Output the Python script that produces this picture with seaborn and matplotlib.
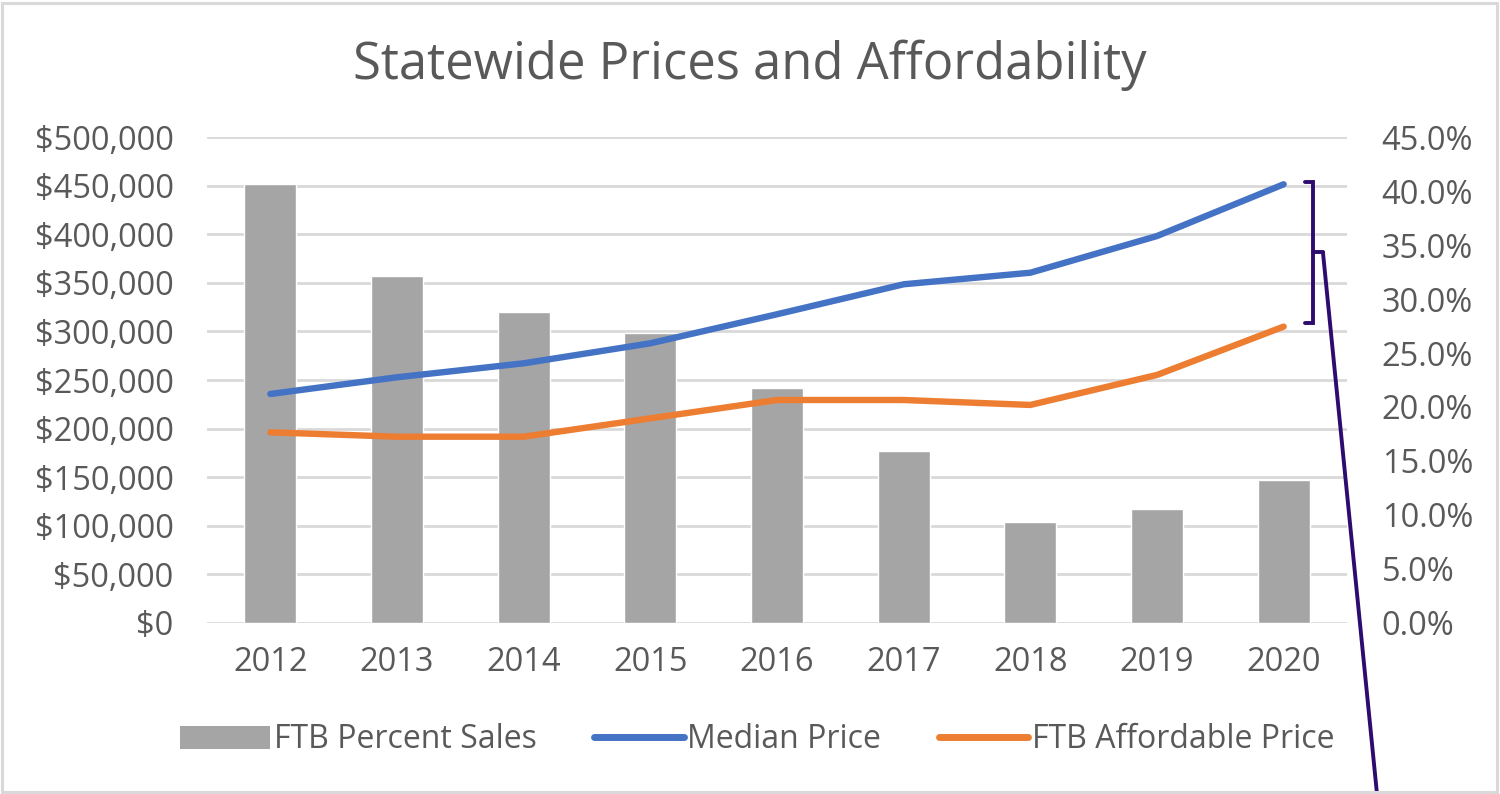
import numpy as np
import pandas as pd
import matplotlib
matplotlib.use("Agg")
import matplotlib.pyplot as plt
import seaborn as sns
from matplotlib.ticker import FuncFormatter, MultipleLocator, FixedLocator
from matplotlib.patches import Patch, Rectangle
from matplotlib.lines import Line2D

# ---- data ----
years = ["2012", "2013", "2014", "2015", "2016", "2017", "2018", "2019", "2020"]
ftb_percent_sales = [0.407, 0.321, 0.288, 0.269, 0.218, 0.159, 0.093, 0.105, 0.132]
median_price = [235600, 252800, 267200, 287800, 317700, 348600, 360500, 398300, 451600]
ftb_affordable_price = [196100, 191600, 191600, 210500, 229400, 229400, 224300, 255200, 305000]
series_labels = ["FTB Percent Sales", "Median Price", "FTB Affordable Price"]
title = "Statewide Prices and Affordability"

# ---- style ----
sns.set_theme(style="white")
plt.rcParams["font.family"] = ["Open Sans", "DejaVu Sans"]
TXT = "#595959"
GRID = "#D9D9D9"
BAR = "#A5A5A5"
BLUE = "#4472C4"
ORANGE = "#ED7D31"
PURPLE = "#2E0B6E"
FS = 23.5

W, H = 1500, 794
fig = plt.figure(figsize=(W / 100, H / 100), dpi=100)
ax = fig.add_axes([207 / W, 1 - 622.7 / H, 1140 / W, 485.4 / H])

# bars on the percentage axis (drawn first, below lines)
df_bar = pd.DataFrame({"Year": years, "pct": ftb_percent_sales})
sns.barplot(data=df_bar, x="Year", y="pct", color=BAR, saturation=1,
            width=0.41, ax=ax, zorder=2)
ax.set_xlim(-0.5, 8.5)
ax.set_ylim(0, 0.45)

# lines on the price axis
ax2 = ax.twinx()
sns.lineplot(x=years, y=median_price, ax=ax2, color=BLUE, lw=4.6,
             solid_capstyle="round", sort=False)
sns.lineplot(x=years, y=ftb_affordable_price, ax=ax2, color=ORANGE, lw=4.6,
             solid_capstyle="round", sort=False)
ax2.set_xlim(-0.5, 8.5)
ax2.set_ylim(0, 500000)

# percentage axis on the right
ax.yaxis.tick_right()
ax.yaxis.set_label_position("right")
ax.yaxis.set_major_locator(MultipleLocator(0.05))
ax.yaxis.set_major_formatter(FuncFormatter(lambda v, p: f"{v*100:.1f}%"))
# gridlines matching the $50,000 steps of the price axis
ax.yaxis.remove_overlapping_locs = False
ax.yaxis.set_minor_locator(FixedLocator([0.45 * i / 10 for i in range(11)]))
ax.yaxis.set_minor_formatter(FuncFormatter(lambda v, p: ""))
ax.grid(False)
ax.grid(which="minor", axis="y", color=GRID, lw=2.0)
ax.set_axisbelow(True)
ax.set_xlabel("")
ax.set_ylabel("")
ax.tick_params(axis="y", which="both", length=0, pad=25, labelsize=FS, labelcolor=TXT,
               left=False, labelleft=False, right=True, labelright=True)
ax.tick_params(axis="x", length=0, pad=17, labelsize=FS, labelcolor=TXT)
for s in ax.spines.values():
    s.set_visible(False)

# price axis on the left
ax2.yaxis.tick_left()
ax2.yaxis.set_major_locator(MultipleLocator(50000))
ax2.yaxis.set_major_formatter(FuncFormatter(lambda v, p: f"${v:,.0f}"))
ax2.tick_params(axis="y", length=0, pad=24, labelsize=FS, labelcolor=TXT,
                left=True, labelleft=True, right=False, labelright=False)
ax2.set_ylabel("")
ax2.grid(False)
for s in ax2.spines.values():
    s.set_visible(False)

# bracket annotation at 2020
xb0, xb1 = 8 + 0.165, 8 + 0.232
top = median_price[-1] + 2500
bot = ftb_affordable_price[-1] + 4000
mid = (top + bot) / 2
ax2.plot([xb0, xb1, xb1, xb0], [top, top, bot, bot], color=PURPLE, lw=2.8,
         clip_on=False, solid_joinstyle="miter")
ax2.plot([xb1, xb1 + 0.078], [mid, mid], color=PURPLE, lw=2.8, clip_on=False)
ax2.annotate("", xy=(xb1 + 0.078, mid), xycoords="data",
             xytext=(1377 / W, 0), textcoords="figure fraction",
             arrowprops=dict(arrowstyle="-", color=PURPLE, lw=2.8,
                             shrinkA=0, shrinkB=0))

# title
fig.text(0.5, 1 - 65 / H, title, ha="center", va="center", fontsize=36.5, color=TXT)

# legend
handles = [Patch(facecolor=BAR, edgecolor="none"),
           Line2D([], [], color=BLUE, lw=5, solid_capstyle="round"),
           Line2D([], [], color=ORANGE, lw=5, solid_capstyle="round")]
fig.legend(handles, series_labels, loc="center", bbox_to_anchor=(0.505, 1 - 740 / H),
           ncol=3, frameon=False, fontsize=FS - 0.5, handlelength=2.8, handletextpad=0.12,
           columnspacing=1.8, labelcolor=TXT)

# chart frame
fig.add_artist(Rectangle((0.0013, 0.003), 0.997, 0.993, transform=fig.transFigure,
                         fill=False, ec=GRID, lw=2.2))

fig.savefig("out.png", dpi=100)
